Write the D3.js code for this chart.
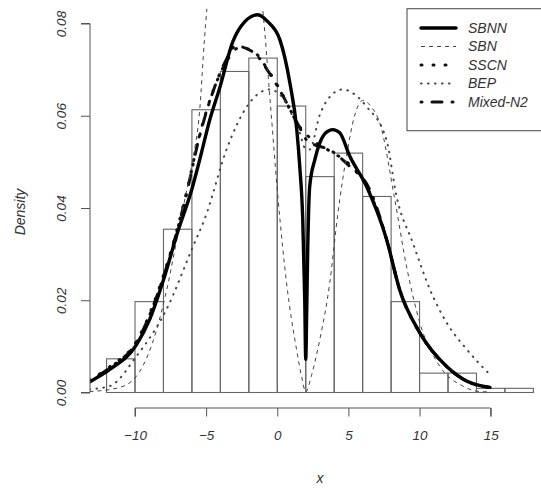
<!DOCTYPE html>
<html><head><meta charset="utf-8">
<script src="https://cdn.jsdelivr.net/npm/d3@7/dist/d3.min.js"></script>
<style>
html,body{margin:0;padding:0;background:#fff;}
text{font-family:"Liberation Sans",Arial,sans-serif;font-style:italic;fill:#333;}
</style></head>
<body>
<svg id="chart" width="541" height="489"></svg>
<script>
// Histogram (density scale), bins of width 2 from -12 to 18
const binEdges = [-12,-10,-8,-6,-4,-2,0,2,4,6,8,10,12,14,16,18];
const binDensity = [0.0073,0.0197,0.0354,0.0613,0.0696,0.0725,0.0621,0.0468,0.0519,0.0425,0.0197,0.0042,0.0042,0.0009,0.0009];

// Fitted density curves
const sbnnX = [-13.2,-11.77,-9.89,-8.96,-8.03,-6.99,-6.01,-5.45,-4.74,-4.04,-3.13,-2.28,-1.37,-0.67,0.18,0.88,1.37,1.58,1.79,1.93,2.0,2.07,2.14,2.28,2.64,2.99,3.41,3.9,4.39,5.1,6.27,7.68,8.6,10.01,11.89,13.3,14.94];
const sbnnY = [0.0023,0.0050,0.0104,0.0159,0.0241,0.0349,0.0440,0.0505,0.0592,0.0661,0.0760,0.0804,0.0819,0.0804,0.0765,0.0672,0.0570,0.0490,0.0375,0.0202,0.0072,0.0180,0.0310,0.0447,0.0505,0.0541,0.0563,0.0570,0.0563,0.0512,0.0447,0.0332,0.0223,0.0130,0.0057,0.0025,0.0011];

const sbnX = [-13.2,-11.07,-9.66,-8.54,-7.69,-6.99,-6.43,-5.94,-5.45,-5.12,-4.95,-4.5,-3.8,-2.9,-2.0,-1.4,-1.02,-0.48,0.06,0.65,1.35,1.72,2.0,2.42,2.99,3.69,4.25,4.86,5.45,6.0,6.64,7.2,8.26,9.08,10.01,11.42,13.04,14.0,14.94];
const sbnY = [0.0002,0.0011,0.0046,0.0130,0.0234,0.0343,0.0429,0.0505,0.0613,0.0765,0.0832,0.0950,0.1050,0.1100,0.1040,0.0930,0.0830,0.0624,0.0418,0.0238,0.0094,0.0033,0.0001,0.0039,0.0115,0.0238,0.0386,0.0512,0.0602,0.0633,0.0618,0.0585,0.0418,0.0274,0.0152,0.0057,0.0014,0.0003,0.0001];

const sscnX = [-13.2,-11.77,-9.89,-8.05,-6.5,-5.45,-4.6,-3.69,-2.64,-1.58,-0.67,0.18,1.58,2.75,3.9,5.1,6.27,7.68,8.6,10.0,11.89,13.3,14.94];
const sscnY = [0.0026,0.0056,0.0111,0.0249,0.0418,0.0559,0.0646,0.0711,0.0748,0.0737,0.0700,0.0657,0.0576,0.0541,0.0520,0.0494,0.0447,0.0332,0.0223,0.0130,0.0057,0.0025,0.0011];

const bepX = [-13.2,-11.77,-9.89,-7.79,-5.92,-5.12,-3.48,-2.28,-1.23,-0.53,0.18,0.9,1.58,1.95,2.28,2.99,3.69,4.6,5.45,6.27,7.67,8.4,9.52,10.72,11.89,13.3,14.94];
const bepY = [0.0007,0.0014,0.0079,0.0180,0.0317,0.0375,0.0534,0.0613,0.0650,0.0657,0.0646,0.0610,0.0563,0.0530,0.0527,0.0602,0.0641,0.0657,0.0646,0.0620,0.0548,0.0423,0.0325,0.0224,0.0152,0.0094,0.0039];

const mixX = [-13.2,-11.77,-9.89,-8.05,-6.5,-5.45,-4.6,-3.69,-2.92,-1.58,-0.67,0.18,1.58,2.05,3.9,5.1,6.5,7.68,8.6,10.0,11.89,13.3,14.94];
const mixY = [0.0025,0.0054,0.0109,0.0246,0.0415,0.0557,0.0645,0.0715,0.0751,0.0735,0.0698,0.0655,0.0574,0.0548,0.0522,0.0490,0.0440,0.0332,0.0223,0.0130,0.0057,0.0025,0.0011];

const xTicks = [-10,-5,0,5,10,15];
const yTicks = [0.00,0.02,0.04,0.06,0.08];
const legendNames = ["SBNN","SBN","SSCN","BEP","Mixed-N2"];

const svg = d3.select("#chart");
const x = d3.scaleLinear().domain([-10,15]).range([135,490.7]);
const y = d3.scaleLinear().domain([0,0.08]).range([392.5,23.5]);
const plotLeft = 90, plotTop = 8.7, plotBottom = 408, plotRight = 551;

svg.append("defs").append("clipPath").attr("id","clip")
  .append("rect").attr("x",plotLeft).attr("y",plotTop)
  .attr("width",plotRight-plotLeft).attr("height",plotBottom-plotTop);

// bars
const bars = binDensity.map((d,i)=>({x0:binEdges[i],x1:binEdges[i+1],d}));
svg.append("g").selectAll("rect").data(bars).join("rect")
  .attr("x",b=>x(b.x0)).attr("width",b=>x(b.x1)-x(b.x0))
  .attr("y",b=>y(b.d)).attr("height",b=>y(0)-y(b.d))
  .attr("fill","none").attr("stroke","#666").attr("stroke-width",1.1);

const styles = [
  {xs:sbnnX, ys:sbnnY, w:3.4, dash:null, cap:"round", col:"#000"},
  {xs:sbnX, ys:sbnY, w:1, dash:"4,4", cap:"butt", col:"#444"},
  {xs:sscnX, ys:sscnY, w:3, dash:"1,11", cap:"round", col:"#111"},
  {xs:bepX, ys:bepY, w:2, dash:"0.6,6.4", cap:"round", col:"#444"},
  {xs:mixX, ys:mixY, w:3, dash:"1,10,10,10", cap:"round", col:"#111"}
];
const line = d3.line().x(d=>x(d[0])).y(d=>y(d[1])).curve(d3.curveMonotoneX);
const cg = svg.append("g").attr("clip-path","url(#clip)");
styles.slice().reverse().forEach(s=>{
  cg.append("path").datum(s.xs.map((v,i)=>[v,s.ys[i]]))
    .attr("d",line).attr("fill","none").attr("stroke",s.col)
    .attr("stroke-width",s.w).attr("stroke-linecap",s.cap)
    .attr("stroke-dasharray",s.dash);
});

// x axis
const xa = svg.append("g").attr("transform",`translate(0,${plotBottom})`)
  .call(d3.axisBottom(x).tickValues(xTicks).tickSize(8.5).tickPadding(14).tickFormat(d3.format("d")));
xa.select(".domain").attr("stroke","#555").attr("d",`M${x(-10)},8.5V0H${x(15)}V8.5`);
xa.selectAll(".tick line").attr("stroke","#555");
xa.selectAll("text").attr("font-size","13.5px").attr("fill","#333");

// y axis
const ya = svg.append("g").attr("transform",`translate(${plotLeft},0)`)
  .call(d3.axisLeft(y).tickValues(yTicks).tickSize(9).tickFormat(d3.format(".2f")));
ya.select(".domain").attr("stroke","#555").attr("d",`M-9,${y(0)}H0V${y(0.08)}H-9`);
ya.selectAll(".tick line").attr("stroke","#555");
ya.selectAll(".tick text").attr("font-size","13.5px").attr("fill","#333")
  .attr("x",null).attr("dy",null).attr("text-anchor","middle")
  .attr("transform","translate(-29,0) rotate(-90)").attr("dominant-baseline","central");
svg.selectAll(".tick text").style("font-family","'Liberation Sans',Arial,sans-serif").style("font-style","italic");

// axis titles
svg.append("text").attr("x",320).attr("y",483).attr("text-anchor","middle").attr("font-size","14px").text("x");
svg.append("text").attr("transform","translate(25,212) rotate(-90)").attr("text-anchor","middle").attr("font-size","14px").text("Density");

// legend
const lg = svg.append("g");
lg.append("rect").attr("x",407).attr("y",plotTop).attr("width",150).attr("height",122)
  .attr("fill","#fff").attr("stroke","#555").attr("stroke-width",1.1);
legendNames.forEach((n,i)=>{
  const yy = 28 + i*18.5;
  const s = styles[i];
  lg.append("line").attr("x1",421).attr("x2",456).attr("y1",yy).attr("y2",yy)
    .attr("stroke",s.col).attr("stroke-width",s.w).attr("stroke-linecap",s.cap)
    .attr("stroke-dasharray",s.dash);
  lg.append("text").attr("x",468).attr("y",yy).attr("dy","0.35em").attr("font-size","14px").text(n);
});
</script>
</body></html>
